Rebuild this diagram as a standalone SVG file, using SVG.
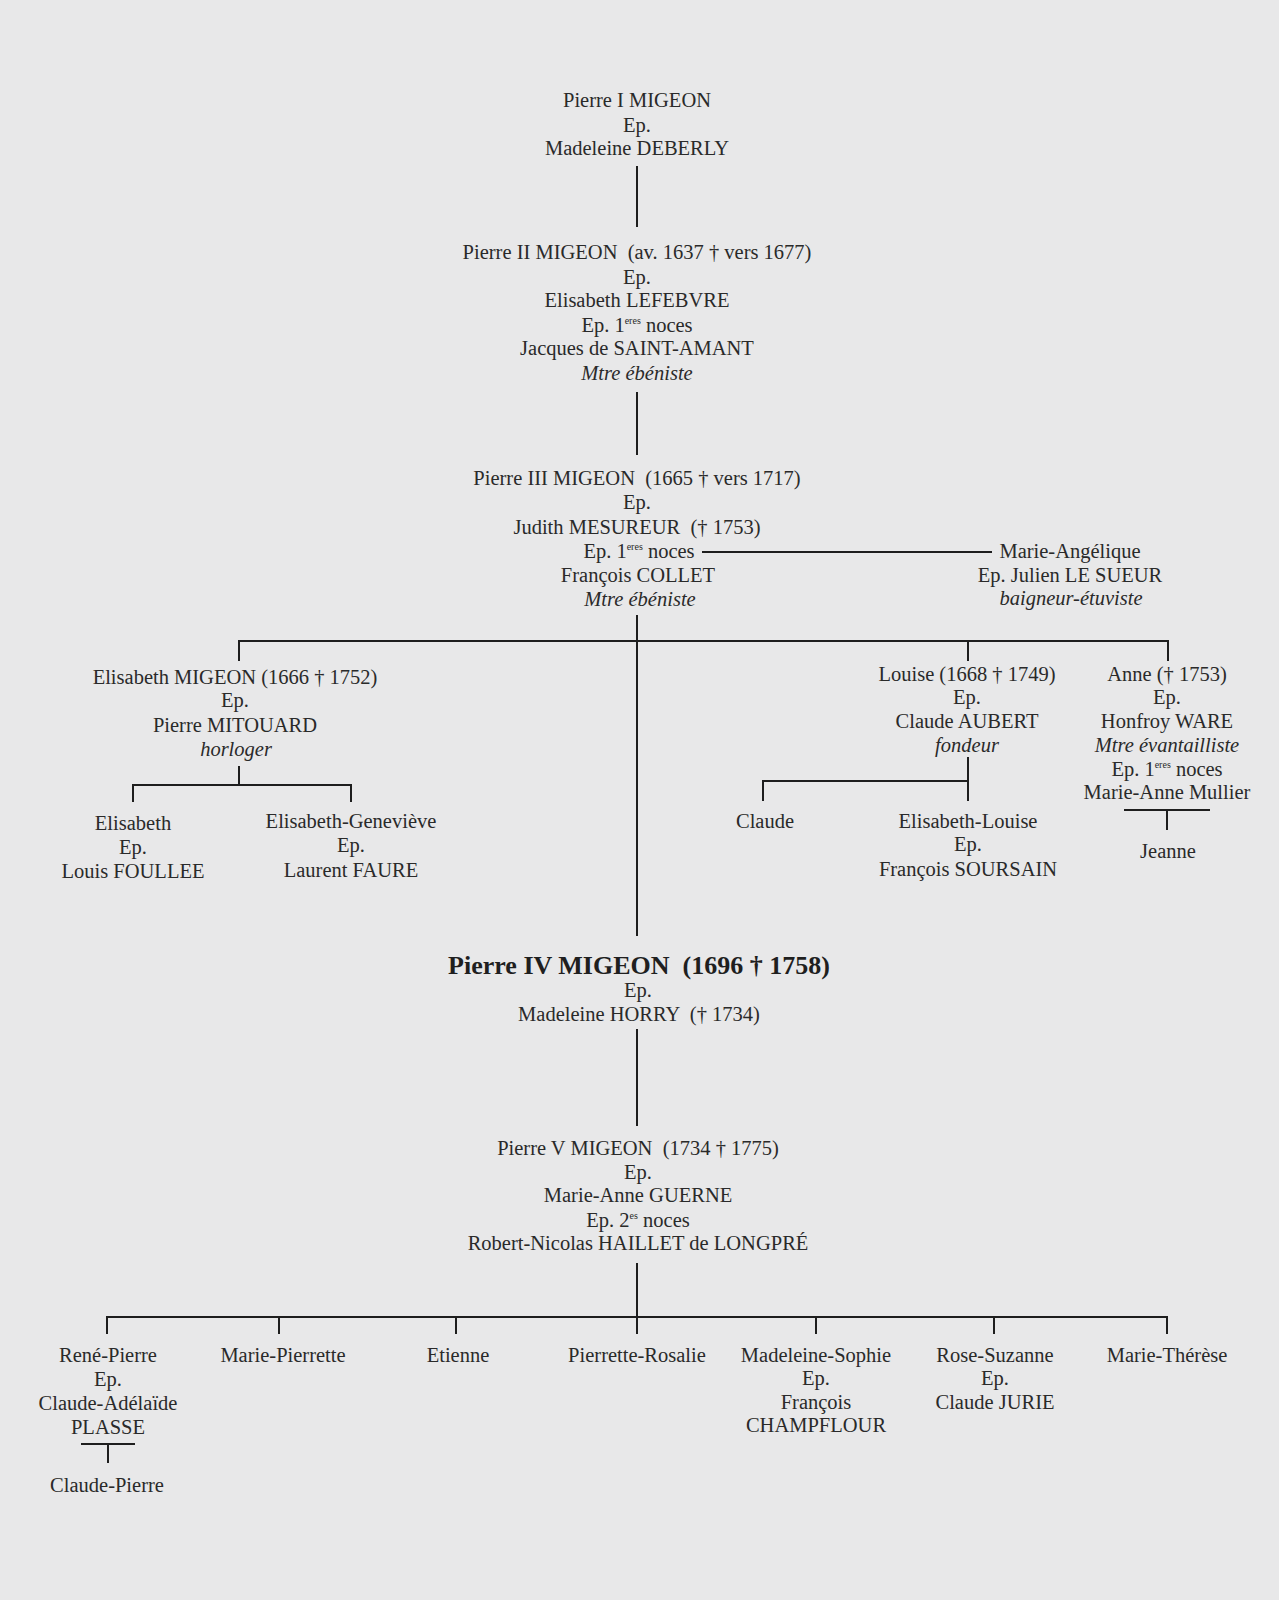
<svg xmlns="http://www.w3.org/2000/svg" width="1279" height="1600" viewBox="0 0 1279 1600">
<style>
.t text{white-space:pre}
.t{font-family:"Liberation Serif","Times New Roman",serif;font-size:20.5px;fill:#2a2a2a;text-anchor:middle}
.i{font-style:italic}
.b{font-weight:bold;font-size:26px;fill:#1f1f1f}
.s{font-size:10px}
.c line{stroke:#1e1e1e;stroke-width:2;fill:none}
</style>
<rect width="1279" height="1600" fill="#e8e8e9"/>
<g class="c" id="connectors">
<line x1="637" y1="166" x2="637" y2="227"/>
<line x1="637" y1="392" x2="637" y2="455"/>
<line x1="702" y1="552" x2="992" y2="552"/>
<line x1="637" y1="615" x2="637" y2="936"/>
<line x1="238" y1="641" x2="1168" y2="641"/>
<line x1="239" y1="640" x2="239" y2="661"/>
<line x1="968" y1="640" x2="968" y2="661"/>
<line x1="1168" y1="640" x2="1168" y2="661"/>
<line x1="239" y1="766" x2="239" y2="785"/>
<line x1="132" y1="785" x2="351" y2="785"/>
<line x1="133" y1="784" x2="133" y2="802"/>
<line x1="351" y1="784" x2="351" y2="802"/>
<line x1="968" y1="757" x2="968" y2="801"/>
<line x1="762" y1="781" x2="968" y2="781"/>
<line x1="763" y1="780" x2="763" y2="801"/>
<line x1="1124" y1="810" x2="1210" y2="810"/>
<line x1="1167" y1="810" x2="1167" y2="830"/>
<line x1="637" y1="1029" x2="637" y2="1126"/>
<line x1="637" y1="1263" x2="637" y2="1334"/>
<line x1="106" y1="1317" x2="1168" y2="1317"/>
<line x1="107" y1="1316" x2="107" y2="1334"/>
<line x1="279" y1="1316" x2="279" y2="1334"/>
<line x1="456" y1="1316" x2="456" y2="1334"/>
<line x1="816" y1="1316" x2="816" y2="1334"/>
<line x1="994" y1="1316" x2="994" y2="1334"/>
<line x1="1167" y1="1316" x2="1167" y2="1334"/>
<line x1="81" y1="1444" x2="135" y2="1444"/>
<line x1="108" y1="1444" x2="108" y2="1463"/>
</g>
<g id="pierre1" class="t">
<text x="637" y="107">Pierre I MIGEON</text>
<text x="637" y="131.5">Ep.</text>
<text x="637" y="155">Madeleine DEBERLY</text>
</g>
<g id="pierre2" class="t">
<text x="637" y="259">Pierre II MIGEON  (av. 1637 † vers 1677)</text>
<text x="637" y="283.5">Ep.</text>
<text x="637" y="307">Elisabeth LEFEBVRE</text>
<text x="637" y="331.5">Ep. 1<tspan class="s" dy="-8">eres</tspan><tspan dy="8"> noces</tspan></text>
<text x="637" y="355">Jacques de SAINT-AMANT</text>
<text x="637" y="379.5" class="i">Mtre ébéniste</text>
</g>
<g id="pierre3" class="t">
<text x="637" y="485">Pierre III MIGEON  (1665 † vers 1717)</text>
<text x="637" y="509">Ep.</text>
<text x="637" y="533.5">Judith MESUREUR  († 1753)</text>
<text x="639" y="558">Ep. 1<tspan class="s" dy="-8">eres</tspan><tspan dy="8"> noces</tspan></text>
<text x="638" y="581.5">François COLLET</text>
<text x="640" y="606" class="i">Mtre ébéniste</text>
</g>
<g id="marie-angelique" class="t">
<text x="1070" y="558">Marie-Angélique</text>
<text x="1070" y="581.5">Ep. Julien LE SUEUR</text>
<text x="1071" y="605" class="i">baigneur-étuviste</text>
</g>
<g id="elisabeth-migeon" class="t">
<text x="235" y="684">Elisabeth MIGEON (1666 † 1752)</text>
<text x="235" y="707">Ep.</text>
<text x="235" y="732">Pierre MITOUARD</text>
<text x="236" y="756" class="i">horloger</text>
</g>
<g id="elisabeth" class="t">
<text x="133" y="830">Elisabeth</text>
<text x="133" y="854">Ep.</text>
<text x="133" y="878">Louis FOULLEE</text>
</g>
<g id="elisabeth-genevieve" class="t">
<text x="351" y="828">Elisabeth-Geneviève</text>
<text x="351" y="852">Ep.</text>
<text x="351" y="877">Laurent FAURE</text>
</g>
<g id="louise" class="t">
<text x="967" y="681">Louise (1668 † 1749)</text>
<text x="967" y="704">Ep.</text>
<text x="967" y="728">Claude AUBERT</text>
<text x="967" y="752" class="i">fondeur</text>
</g>
<g id="claude" class="t">
<text x="765" y="828">Claude</text>
</g>
<g id="elisabeth-louise" class="t">
<text x="968" y="828">Elisabeth-Louise</text>
<text x="968" y="851">Ep.</text>
<text x="968" y="876">François SOURSAIN</text>
</g>
<g id="anne" class="t">
<text x="1167" y="681">Anne († 1753)</text>
<text x="1167" y="704">Ep.</text>
<text x="1167" y="728">Honfroy WARE</text>
<text x="1167" y="752" class="i">Mtre évantailliste</text>
<text x="1167" y="776">Ep. 1<tspan class="s" dy="-8">eres</tspan><tspan dy="8"> noces</tspan></text>
<text x="1167" y="799">Marie-Anne Mullier</text>
</g>
<g id="jeanne" class="t">
<text x="1168" y="858">Jeanne</text>
</g>
<g id="pierre4" class="t">
<text x="639" y="974" class="b">Pierre IV MIGEON  (1696 † 1758)</text>
<text x="638" y="997">Ep.</text>
<text x="639" y="1020.5">Madeleine HORRY  († 1734)</text>
</g>
<g id="pierre5" class="t">
<text x="638" y="1155">Pierre V MIGEON  (1734 † 1775)</text>
<text x="638" y="1179">Ep.</text>
<text x="638" y="1202">Marie-Anne GUERNE</text>
<text x="638" y="1227">Ep. 2<tspan class="s" dy="-8">es</tspan><tspan dy="8"> noces</tspan></text>
<text x="638" y="1250">Robert-Nicolas HAILLET de LONGPRÉ</text>
</g>
<g id="rene-pierre" class="t">
<text x="108" y="1361.5">René-Pierre</text>
<text x="108" y="1386">Ep.</text>
<text x="108" y="1409.5">Claude-Adélaïde</text>
<text x="108" y="1434">PLASSE</text>
</g>
<g id="claude-pierre" class="t">
<text x="107" y="1492">Claude-Pierre</text>
</g>
<g id="marie-pierrette" class="t">
<text x="283" y="1361.5">Marie-Pierrette</text>
</g>
<g id="etienne" class="t">
<text x="458" y="1361.5">Etienne</text>
</g>
<g id="pierrette-rosalie" class="t">
<text x="637" y="1361.5">Pierrette-Rosalie</text>
</g>
<g id="madeleine-sophie" class="t">
<text x="816" y="1361.5">Madeleine-Sophie</text>
<text x="816" y="1385">Ep.</text>
<text x="816" y="1408.5">François</text>
<text x="816" y="1432">CHAMPFLOUR</text>
</g>
<g id="rose-suzanne" class="t">
<text x="995" y="1361.5">Rose-Suzanne</text>
<text x="995" y="1385">Ep.</text>
<text x="995" y="1408.5">Claude JURIE</text>
</g>
<g id="marie-therese" class="t">
<text x="1167" y="1361.5">Marie-Thérèse</text>
</g>
</svg>
